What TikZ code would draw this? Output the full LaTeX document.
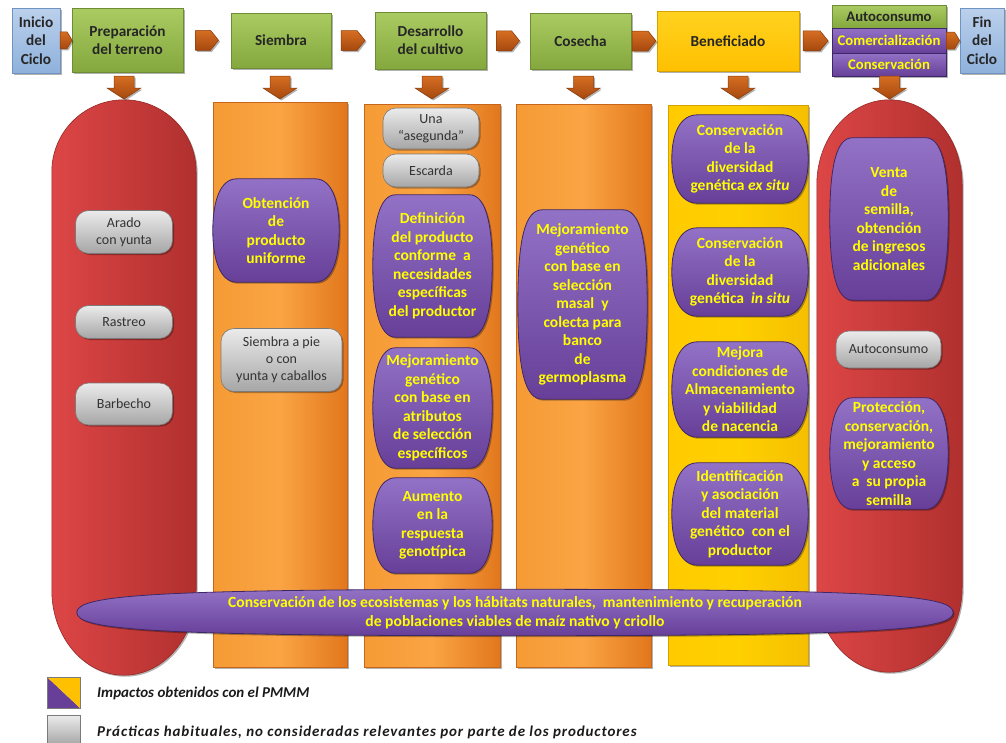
\documentclass[tikz,border=0pt]{standalone}
\usepackage{fontspec}
\setmainfont{Carlito}
\usetikzlibrary{calc,shadows}
\pgfdeclarelayer{cols}
\pgfdeclarelayer{boxes}
\pgfsetlayers{cols,boxes,main}

\definecolor{txtyel}{RGB}{255,255,0}
\definecolor{purTop}{HTML}{9272C6}
\definecolor{purBot}{HTML}{673F98}
\definecolor{purLine}{HTML}{3E2766}
\definecolor{grayTop}{HTML}{EBEBEB}
\definecolor{grayBot}{HTML}{A6A6A6}
\definecolor{grayLine}{HTML}{7A7A7A}
\definecolor{grayTxt}{HTML}{333333}
\definecolor{grnTop}{HTML}{AACB62}
\definecolor{grnBot}{HTML}{84A83E}
\definecolor{grnLine}{HTML}{6D8C33}
\definecolor{bluTop}{HTML}{BBD0EC}
\definecolor{bluBot}{HTML}{8EB1DB}
\definecolor{bluLine}{HTML}{6F94C4}
\definecolor{yelTop}{HTML}{FFD21F}
\definecolor{yelBot}{HTML}{FFC000}
\definecolor{yelLine}{HTML}{D4A200}
\definecolor{orgL}{HTML}{F59B35}
\definecolor{orgM}{HTML}{FAA444}
\definecolor{orgR}{HTML}{E2771D}
\definecolor{orgLine}{HTML}{C7661A}
\definecolor{colYelL}{HTML}{FFCB00}
\definecolor{colYelM}{HTML}{FFD000}
\definecolor{colYelR}{HTML}{F5BF00}
\definecolor{redL}{HTML}{DD4646}
\definecolor{redR}{HTML}{B0302E}
\definecolor{redLine}{HTML}{952826}
\definecolor{arrTop}{HTML}{D66E22}
\definecolor{arrBot}{HTML}{A5480F}
\definecolor{arrLine}{HTML}{8A3C0B}
\definecolor{hdrTxt}{HTML}{262626}
\definecolor{legTxt}{HTML}{1A1A1A}

\tikzset{
  softshadow/.style={drop shadow={shadow xshift=1.5pt,shadow yshift=-1.5pt,opacity=.3,fill=black}},
  hdr/.style={draw=grnLine, line width=.8pt, top color=grnTop, bottom color=grnBot,
    softshadow, inner sep=0, align=center, text=hdrTxt,
    font=\bfseries\fontsize{15.3}{18.3}\selectfont},
  hdrblue/.style={hdr, draw=bluLine, top color=bluTop, bottom color=bluBot},
  hdryel/.style={hdr, draw=yelLine, top color=yelTop, bottom color=yelBot},
  hdrpur/.style={hdr, draw=purLine, top color=purTop, bottom color=purBot, text=txtyel,
    font=\bfseries\fontsize{14.7}{17}\selectfont},
  hdrgrn/.style={hdr, font=\bfseries\fontsize{14.7}{17}\selectfont},
  pill/.style={draw=grayLine, line width=.6pt, top color=grayTop, bottom color=grayBot,
    rounded corners=13pt, softshadow, inner sep=0, align=center, text=grayTxt,
    font=\fontsize{14}{16.8}\selectfont},
  imp/.style={inner sep=0, align=center, text=txtyel,
    font=\bfseries\fontsize{15.5}{18.5}\selectfont},
  impfill/.style={draw=purLine, line width=.8pt, top color=purTop, bottom color=purBot, softshadow},
  colbox/.style={inner sep=0},
  colorg/.style={draw=orgLine, line width=.6pt, left color=orgL, right color=orgR,
    middle color=orgM, softshadow, inner sep=0},
  colyel/.style={draw=yelLine, line width=.6pt, left color=colYelL, right color=colYelR,
    middle color=colYelM, softshadow, inner sep=0},
  redfill/.style={draw=redLine, line width=.6pt, left color=redL, right color=redR, softshadow},
  arrowfill/.style={draw=arrLine, line width=.5pt, top color=arrTop, bottom color=arrBot, softshadow},
  legend/.style={anchor=west, inner sep=0, text=legTxt,
    font=\bfseries\itshape\fontsize{15}{18}\selectfont},
}

% barrel-shaped background for an impact box
\newcommand\barrel[1]{%
  \path[impfill] let \p1=(#1.north west), \p2=(#1.south east),
      \n1={0.19*(\x2-\x1)}, \n2={min(0.22*(\y1-\y2),28)} in
    ({\x1+\n1},\y1) -- ({\x2-\n1},\y1)
    .. controls ({\x2-0.3*\n1},\y1) and (\x2,{\y1-\n2}) .. (\x2,{0.5*(\y1+\y2)})
    .. controls (\x2,{\y2+\n2}) and ({\x2-0.3*\n1},\y2) .. ({\x2-\n1},\y2)
    -- ({\x1+\n1},\y2)
    .. controls ({\x1+0.3*\n1},\y2) and (\x1,{\y2+\n2}) .. (\x1,{0.5*(\y1+\y2)})
    .. controls (\x1,{\y1-\n2}) and ({\x1+0.3*\n1},\y1) .. ({\x1+\n1},\y1) -- cycle;}

% flattened oval behind a node (wide band)
\newcommand\bandshape[1]{%
  \path[impfill] let \p1=(#1.north west), \p2=(#1.south east),
      \n1={0.5*(\x2-\x1)}, \n2={0.5*(\y1-\y2)} in
    (\x1,{\y2+\n2})
    .. controls (\x1,{\y2+1.75*\n2}) and ({\x1+0.17*\n1},\y1) .. ({\x1+\n1},\y1)
    .. controls ({\x2-0.17*\n1},\y1) and (\x2,{\y2+1.75*\n2}) .. (\x2,{\y2+\n2})
    .. controls (\x2,{\y2+0.25*\n2}) and ({\x2-0.17*\n1},\y2) .. ({\x1+\n1},\y2)
    .. controls ({\x1+0.17*\n1},\y2) and (\x1,{\y2+0.25*\n2}) .. (\x1,{\y2+\n2})
    -- cycle;}

% red column with elliptic ends: node name, top cap height, bottom cap height
\newcommand\capsule[3]{%
  \path[redfill] let \p1=(#1.north west), \p2=(#1.south east),
      \n2={0.5*(\x2-\x1)} in
    (\x1,{\y1-#2})
    .. controls (\x1,{\y1-0.4477*#2}) and ({\x1+0.4477*\n2},\y1) .. ({\x1+\n2},\y1)
    .. controls ({\x1+1.5523*\n2},\y1) and (\x2,{\y1-0.4477*#2}) .. (\x2,{\y1-#2})
    -- (\x2,{\y2+#3})
    .. controls (\x2,{\y2+0.4477*#3}) and ({\x1+1.5523*\n2},\y2) .. ({\x1+\n2},\y2)
    .. controls ({\x1+0.4477*\n2},\y2) and (\x1,{\y2+0.4477*#3}) .. (\x1,{\y2+#3})
    -- cycle;}

% block arrow pointing down, tip at #1
\newcommand\darr[1]{%
  \path[arrowfill] #1 -- ++(-17,-11) -- ++(7,0) -- ++(0,-12) -- ++(20,0)
    -- ++(0,12) -- ++(7,0) -- cycle;}

% pentagon arrow pointing right: centre, length, half height, tip length
\newcommand\rarr[4]{%
  \path[arrowfill] #1 ++({-#2/2},-#3) -- ++({#2-#4},0) -- ++(#4,#3)
    -- ++(-#4,#3) -- ++({#4-#2},0) -- cycle;}

\begin{document}
\begin{tikzpicture}[x=1pt,y=-1pt]
\useasboundingbox (0,0) rectangle (1006,742);

% ---------- stage headers ----------
\node[hdrblue, minimum width=48, minimum height=65] (inicio) at (36,40.5) {Inicio\\del\\Ciclo};
\node[hdr, minimum width=111, minimum height=64] (prep) at (127.5,40) {Preparación\\del terreno};
\node[hdr, minimum width=100, minimum height=55] (siembra) at (281,40.5) {Siembra};
\node[hdr, minimum width=111, minimum height=57] (desarrollo) at (430.5,40.5) {Desarrollo\\del cultivo};
\node[hdr, minimum width=101, minimum height=56] (cosecha) at (580.5,41) {Cosecha};
\node[hdryel, minimum width=142, minimum height=60] (benef) at (728,41) {Beneficiado};
\node[hdrgrn, minimum width=114, minimum height=23] (autoc) at (889,16.5) {Autoconsumo};
\node[hdrpur, minimum width=114, minimum height=25] (comer) at (889,40.5) {Comercialización};
\node[hdrpur, minimum width=114, minimum height=23] (conse) at (889,64.5) {Conservación};
\node[hdrblue, minimum width=44, minimum height=65] (fin) at (982,40.5) {Fin\\del\\Ciclo};

% ---------- arrows between stages ----------
\rarr{($(inicio.east)!.5!(prep.west)$)}{12}{8.5}{5}
\rarr{($(prep.east)!.5!(siembra.west)$)}{23}{10}{8}
\rarr{($(siembra.east)!.5!(desarrollo.west)$)}{24}{10}{8}
\rarr{($(desarrollo.east)!.5!(cosecha.west)$)}{23}{10}{8}
\rarr{($(cosecha.east)!.5!(benef.west)$)}{24}{10}{8}
\rarr{($(benef.east)!.5!(comer.west)$)}{25}{10}{8}
\rarr{($(comer.east)!.5!(fin.west)$)}{13}{8.5}{5}

% ---------- columns ----------
\begin{pgfonlayer}{cols}
  \node[colbox, minimum width=144, minimum height=575] (colL) at (124,387.5) {};
  \capsule{colL}{72}{85}
  \node[colorg, minimum width=134, minimum height=565] (colS) at (280,384.5) {};
  \node[colorg, minimum width=136, minimum height=563] (colD) at (432,385.5) {};
  \node[colorg, minimum width=135, minimum height=563] (colC) at (583.5,385.5) {};
  \node[colyel, minimum width=140, minimum height=560] (colB) at (738,385) {};
  \node[colbox, minimum width=145, minimum height=572] (colR) at (889.5,386) {};
  \capsule{colR}{85}{85}
\end{pgfonlayer}

% ---------- arrows from stages to columns ----------
\coordinate (arrowrow) at (0,99);
\darr{(colL.north |- arrowrow)}
\darr{(colS.north |- arrowrow)}
\darr{(colD.north |- arrowrow)}
\darr{(colC.north |- arrowrow)}
\darr{(colB.north |- arrowrow)}
\darr{(colR.north |- arrowrow)}

% ---------- usual practices ----------
\node[pill, minimum width=97, minimum height=43] (arado) at (124,232) {Arado\\con yunta};
\node[pill, minimum width=97, minimum height=33] (rastreo) at (124,322) {Rastreo};
\node[pill, minimum width=97, minimum height=42] (barbecho) at (124,404) {Barbecho};
\node[pill, minimum width=121, minimum height=63] (siembrapie) at (281.5,360) {Siembra a pie\\o con\\yunta y caballos};
\node[pill, minimum width=96, minimum height=41] (asegunda) at (431,128.5) {Una\\“asegunda”};
\node[pill, minimum width=96, minimum height=33] (escarda) at (431,170.5) {Escarda};
\node[pill, minimum width=105, minimum height=37] (autoconsumo) at (888.5,349.5) {Autoconsumo};

% ---------- impacts ----------
\node[imp, minimum width=126, minimum height=103] (obt) at (276,230.5) {Obtención\\de\\producto\\uniforme};
\node[imp, minimum width=119, minimum height=142] (defin) at (432.5,266) {Definición\\del producto\\conforme~ a\\necesidades\\específicas\\del productor};
\node[imp, minimum width=119, minimum height=120] (mejorA) at (432.5,408) {Mejoramiento\\genético\\con base en\\atributos\\de selección\\específicos};
\node[imp, minimum width=119, minimum height=95] (aumento) at (432.5,525.5) {Aumento\\en la\\respuesta\\genotípica};
\node[imp, minimum width=129, minimum height=189] (mejorB) at (582.5,304.5) {Mejoramiento\\genético\\con base en\\selección\\masal~ y\\colecta para\\banco\\de\\germoplasma};
\node[imp, minimum width=136, minimum height=88] (exsitu) at (740,159) {Conservación\\de la\\diversidad\\genética \textit{ex situ}};
\node[imp, minimum width=136, minimum height=88] (insitu) at (740,272) {Conservación\\de la\\diversidad\\genética~ \textit{in situ}};
\node[imp, minimum width=136, minimum height=95] (mejora) at (740,389.5) {Mejora\\condiciones de\\Almacenamiento\\y viabilidad\\de nacencia};
\node[imp, minimum width=136, minimum height=102] (ident) at (740,514) {Identificación\\y asociación\\del material\\genético~ con el\\productor};
\node[imp, minimum width=118, minimum height=162] (venta) at (889,219) {Venta\\de\\semilla,\\obtención\\de ingresos\\adicionales};
\node[imp, minimum width=118, minimum height=111] (protec) at (889,453.5) {Protección,\\conservación,\\mejoramiento\\y acceso\\a~ su propia\\semilla};

% ---------- band across all columns ----------
\node[imp, minimum width=876, minimum height=46,
      font=\bfseries\fontsize{15.6}{18.5}\selectfont] (eco) at (515,612.5)
  {Conservación de los ecosistemas y los hábitats naturales,~ mantenimiento y recuperación\\
   de poblaciones viables de maíz nativo y criollo};

\begin{pgfonlayer}{boxes}
  \foreach \b in {obt,defin,mejorA,aumento,mejorB,exsitu,insitu,mejora,ident,venta,protec}
    {\barrel{\b}}
  \bandshape{eco}
\end{pgfonlayer}

% ---------- legend ----------
\fill[purBot] (47,677) -- (47,708) -- (80,708) -- cycle;
\fill[yelBot] (47,677) -- (80,677) -- (80,708) -- cycle;
\draw[grayLine, line width=.6pt] (47,677) rectangle (80,708);
\node[legend] (legimp) at (97,693) {Impactos obtenidos con el PMMM};
\shade[top color=grayTop, bottom color=grayBot, draw=grayLine, line width=.6pt] (47,715) rectangle (80,745);
\node[legend, font=\bfseries\itshape\fontsize{15}{18}\selectfont\addfontfeature{LetterSpace=6}] (legprac) at (97,732)
  {Prácticas habituales, no consideradas relevantes por parte de los productores};
\end{tikzpicture}
\end{document}
